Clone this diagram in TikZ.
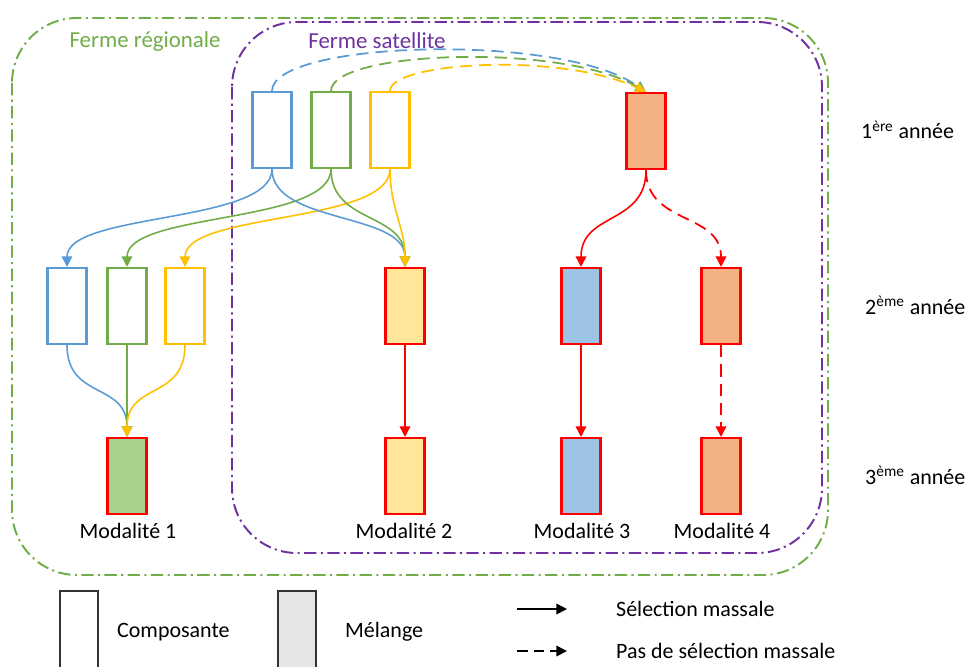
\documentclass[tikz,border=0pt]{standalone}
\usepackage{fontspec}
\setmainfont{Carlito}
\usetikzlibrary{arrows.meta}

\definecolor{cblue}{HTML}{5B9BD5}
\definecolor{cgreen}{HTML}{70AD47}
\definecolor{cyellow}{HTML}{FFC000}
\definecolor{cpurple}{HTML}{7030A0}
\definecolor{fblue}{HTML}{9DC3E6}
\definecolor{fgreen}{HTML}{A9D18E}
\definecolor{fyellow}{HTML}{FFE699}
\definecolor{forange}{HTML}{F4B183}
\definecolor{fgrey}{HTML}{E7E6E6}

\tikzset{
  farm/.style={line width=1.1pt, rounded corners=1.3cm,
    dash pattern=on 7pt off 2.5pt on 1.2pt off 2.5pt},
  compbox/.style={draw=#1, fill=white, line width=1.2pt, inner sep=0pt,
    minimum width=0.78cm, minimum height=1.52cm},
  mixbox/.style={draw=red, fill=#1, line width=1.2pt, inner sep=0pt,
    minimum width=0.78cm, minimum height=1.52cm},
  link/.style={line width=0.9pt, -{Triangle[width=6pt,length=6pt]}},
  nolink/.style={link, line width=1pt, dash pattern=on 7pt off 4pt},
}

\begin{document}
\begin{tikzpicture}[x=0.02cm, y=-0.02cm, font=\fontsize{12.5}{15}\selectfont]
  \clip (0,0) rectangle (969,666);

  % Draw the farms
  \draw[cgreen, farm] (12,18) rectangle (828,575);
  \draw[cpurple, farm] (232,22) rectangle (822,553);
  \node[cgreen, font=\fontsize{13}{15}\selectfont] (regionale) at (145,42) {Ferme régionale};
  \node[cpurple, font=\fontsize{13}{15}\selectfont] (satellite) at (377,41) {Ferme satellite};

  % Boxes of the first year
  \foreach \name/\x/\col in {s1b/272/cblue, s1g/331/cgreen, s1y/390/cyellow} {
    \node[compbox=\col] (\name) at (\x,130) {};
  }
  \node[mixbox=forange] (s1o) at (646,131) {};

  % Boxes of the second year
  \foreach \name/\x/\col in {r2b/67/cblue, r2g/127/cgreen, r2y/185/cyellow} {
    \node[compbox=\col] (\name) at (\x,306) {};
  }
  \foreach \name/\x/\col in {m2a/405/fyellow, m3a/581/fblue, m4a/721/forange} {
    \node[mixbox=\col] (\name) at (\x,306) {};
  }

  % Boxes of the third year
  \foreach \name/\x/\col in {m1b/127/fgreen, m2b/405/fyellow, m3b/581/fblue, m4b/721/forange} {
    \node[mixbox=\col] (\name) at (\x,476) {};
  }

  % Modalities and years
  \foreach \name/\x/\num in {m1b/128/1, m2b/404/2, m3b/582/3, m4b/722/4} {
    \node (lab\num) at (\x,531) {Modalité \num};
  }
  \node[anchor=west] (an1) at (855,130) {1\textsuperscript{ère} année};
  \node[anchor=west] (an2) at (859,305) {2\textsuperscript{ème} année};
  \node[anchor=west] (an3) at (859,475) {3\textsuperscript{ème} année};

  % Mixing of the components
  \draw[nolink, cblue] (s1b.north) .. controls +(0,-50) and +(-85,-60) .. (s1o.north);
  \draw[nolink, cgreen] (s1g.north) .. controls +(0,-40) and +(-85,-50) .. (s1o.north);
  \draw[nolink, cyellow] (s1y.north) .. controls +(0,-29) and +(-85,-40) .. (s1o.north);

  % Components sent to both farms
  \draw[link, cblue] (s1b.south) .. controls +(0,55) and +(0,-55) .. (r2b.north);
  \draw[link, cgreen] (s1g.south) .. controls +(0,55) and +(0,-55) .. (r2g.north);
  \draw[link, cyellow] (s1y.south) .. controls +(0,55) and +(0,-55) .. (r2y.north);
  \draw[link, cblue] (s1b.south) .. controls +(0,55) and +(0,-55) .. (m2a.north);
  \draw[link, cgreen] (s1g.south) .. controls +(0,55) and +(0,-55) .. (m2a.north);
  \draw[link, cyellow] (s1y.south) .. controls +(0,40) and +(0,-40) .. (m2a.north);

  % Regional mixing
  \draw[link, cblue] (r2b.south) .. controls +(0,55) and +(0,-55) .. (m1b.north);
  \draw[link, cgreen] (r2g.south) -- (m1b.north);
  \draw[link, cyellow] (r2y.south) .. controls +(0,55) and +(0,-55) .. (m1b.north);

  % Selection in the satellite farm
  \draw[link, red] (s1o.south) .. controls +(0,55) and +(0,-55) .. (m3a.north);
  \draw[nolink, red] (s1o.south) .. controls +(0,55) and +(0,-55) .. (m4a.north);
  \draw[link, red] (m2a.south) -- (m2b.north);
  \draw[link, red] (m3a.south) -- (m3b.north);
  \draw[nolink, red] (m4a.south) -- (m4b.north);

  % Legend
  \node[draw=black!80, fill=white, line width=0.8pt, minimum width=0.76cm,
    minimum height=1.8cm] (lcomp) at (79,636) {};
  \node[anchor=west] (lcomptxt) at (111,632) {Composante};
  \node[draw=black!80, fill=fgrey, line width=0.8pt, minimum width=0.76cm,
    minimum height=1.8cm] (lmix) at (297,636) {};
  \node[anchor=west] (lmixtxt) at (339,632) {Mélange};
  \coordinate (sel1) at (517,609);
  \coordinate (sel2) at (567,609);
  \coordinate (nsel1) at (517,651);
  \coordinate (nsel2) at (567,651);
  \draw[line width=0.9pt, -{Triangle[width=6pt,length=6pt]}] (sel1) -- (sel2);
  \draw[line width=0.9pt, dash pattern=on 6pt off 3.5pt, -{Triangle[width=6pt,length=6pt]}] (nsel1) -- (nsel2);
  \node[anchor=west] (seltxt) at (610,609) {Sélection massale};
  \node[anchor=west] (nseltxt) at (610,651) {Pas de sélection massale};
\end{tikzpicture}
\end{document}
